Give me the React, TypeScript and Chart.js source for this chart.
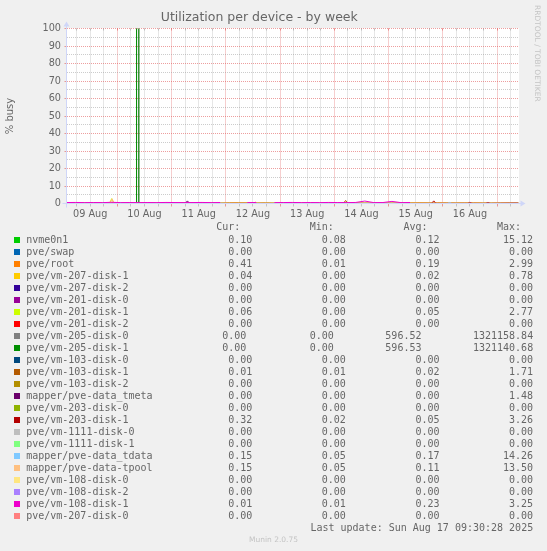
import { useEffect, useRef } from "react";
import { Chart, registerables } from "chart.js";

Chart.register(...registerables);

// series, in munin's draw order (last one ends up on top)
const seriesNames = [
  "nvme0n1",
  "pve/swap",
  "pve/root",
  "pve/vm-207-disk-1",
  "pve/vm-207-disk-2",
  "pve/vm-201-disk-0",
  "pve/vm-201-disk-1",
  "pve/vm-201-disk-2",
  "pve/vm-205-disk-0",
  "pve/vm-205-disk-1",
  "pve/vm-103-disk-0",
  "pve/vm-103-disk-1",
  "pve/vm-103-disk-2",
  "mapper/pve-data_tmeta",
  "pve/vm-203-disk-0",
  "pve/vm-203-disk-1",
  "pve/vm-1111-disk-0",
  "pve/vm-1111-disk-1",
  "mapper/pve-data_tdata",
  "mapper/pve-data-tpool",
  "pve/vm-108-disk-0",
  "pve/vm-108-disk-2",
  "pve/vm-108-disk-1",
  "pve/vm-207-disk-0",
];

const seriesColors = [
  "#00CC00", "#0066B3", "#FF8000", "#FFCC00", "#330099", "#990099",
  "#CCFF00", "#FF0000", "#808080", "#008F00", "#00487D", "#B35A00",
  "#B38F00", "#6B006B", "#8FB300", "#B30000", "#BEBEBE", "#80FF80",
  "#80C9FF", "#FFC080", "#FFE680", "#AA80FF", "#EE00CC", "#FF8080",
];

// legend statistics
const curValues = [0.10, 0.00, 0.41, 0.04, 0.00, 0.00, 0.06, 0.00, 0.00, 0.00, 0.00, 0.01, 0.00, 0.00, 0.00, 0.32, 0.00, 0.00, 0.15, 0.15, 0.00, 0.00, 0.01, 0.00];
const minValues = [0.08, 0.00, 0.01, 0.00, 0.00, 0.00, 0.00, 0.00, 0.00, 0.00, 0.00, 0.01, 0.00, 0.00, 0.00, 0.02, 0.00, 0.00, 0.05, 0.05, 0.00, 0.00, 0.01, 0.00];
const avgValues = [0.12, 0.00, 0.19, 0.02, 0.00, 0.00, 0.05, 0.00, 596.52, 596.53, 0.00, 0.02, 0.00, 0.00, 0.00, 0.05, 0.00, 0.00, 0.17, 0.11, 0.00, 0.00, 0.23, 0.00];
const maxValues = [15.12, 0.00, 2.99, 0.78, 0.00, 0.00, 2.77, 0.00, 1321158.84, 1321140.68, 0.00, 1.71, 0.00, 1.48, 0.00, 3.26, 0.00, 0.00, 14.26, 13.50, 0.00, 0.00, 3.25, 0.00];

// x values are hours relative to 10 Aug 00:00
const dayLabels = ["09 Aug", "10 Aug", "11 Aug", "12 Aug", "13 Aug", "14 Aug", "15 Aug", "16 Aug"];

const hoursGrid = [
  -22.5, -18.5, -14.5, -10.5, -6.5, -2.5, 1.5, 5.5, 9.5, 13.5,
  17.5, 21.5, 25.5, 29.5, 33.5, 37.5, 41.5, 45.5, 49.5, 53.5,
  57.5, 61.5, 65.5, 69.5, 73.5, 77.5, 81.5, 85.5, 89.5, 93.5,
  97.5, 101.5, 105.5, 109.5, 113.5, 117.5, 121.5, 125.5, 129.5, 133.5,
  137.5, 141.5, 145.5, 149.5, 153.5, 157.5, 161.5, 165.5, 169.5, 173.5,
  177.5,
];

const nvmeValues = [
  0.12, 0.1, 0.15, 0.1, 0.12, 0.2, 0.1, 0.12, 0.1, 0.14,
  0.1, 0.12, 0.1, 0.15, 0.1, 0.12, 0.1, 0.11, 0.12, 0.1,
  0.14, 0.1, 0.12, 0.1, 0.13, 0.1, 0.12, 0.11, 0.1, 0.12,
  0.1, 0.14, 0.1, 0.12, 0.1, 0.13, 0.1, 0.12, 0.1, 0.11,
  0.12, 0.1, 0.13, 0.1, 0.12, 0.1, 0.11, 0.12, 0.1, 0.12,
  0.1,
];

const rootValues = [
  0.3, 0.35, 0.3, 0.3, 0.35, 0.4, 0.3, 0.3, 0.35, 0.3,
  0.3, 0.35, 0.3, 0.4, 0.3, 0.35, 0.3, 0.3, 0.5, 0.55,
  0.5, 0.35, 0.5, 0.3, 0.35, 0.3, 0.3, 0.35, 0.3, 0.3,
  0.35, 0.3, 0.35, 0.3, 0.3, 0.35, 0.3, 0.4, 0.5, 0.55,
  0.5, 0.55, 0.5, 0.45, 0.5, 0.55, 0.5, 0.45, 0.5, 0.55,
  0.41,
];

const vm108d1Values = [
  0.55, 0.6, 0.5, 0.55, 0.5, 0.7, 0.5, 0.55, 0.5, 0.55,
  0.5, 0.6, 0.55, 0.5, 0.55, 0.6, 0.5, 0.55, null, null,
  0.5, 0.55, null, 0.5, 0.55, 0.6, 0.5, 0.55, 0.5, 0.6,
  0.55, 0.5, 0.6, 1.4, 0.5, 0.55, 1.2, 0.5, 0.55, null,
  0.01, 0.01, 0.01, 0.01, 0.01, 0.01, 0.01, 0.01, 0.01, 0.01,
  0.01,
];

const flatHours = [-22.5, 177.5];
const flatValues = [0, 0];

const spikeHours = [-22.5, 8.5, 9, 9.5, 177.5];
const vm205d0Values = [0, 0, 1321158.84, 0, 0];
const vm205d1Values = [0, 0, 1321140.68, 0, 0];

const vm207d1Hours = [-22.5, 60, 61, 62, 177.5];
const vm207d1Values = [0.02, 0.02, 0.78, 0.02, 0.04];

const vm201d1Hours = [-22.5, -3.5, -2.5, -1.5, 75, 76, 77, 177.5];
const vm201d1Values = [0.05, 0.05, 2.77, 0.05, 0.05, 0.6, 0.05, 0.06];

const vm103d1Hours = [-22.5, 100, 101, 102, 177.5];
const vm103d1Values = [0.02, 0.02, 1.71, 0.02, 0.01];

const tmetaHours = [-22.5, 30, 31, 32, 177.5];
const tmetaValues = [0, 0, 1.48, 0, 0];

const vm203d1Hours = [-22.5, 130, 139, 140, 141, 155, 156, 157, 163, 164, 165, 177.5];
const vm203d1Values = [0.02, 0.03, 0.05, 1.5, 0.05, 0.05, 0.7, 0.05, 0.05, 0.7, 0.05, 0.32];

const tdataHours = [-22.5, -7, -6, -5, 0.5, 1.5, 2.5, 146, 147, 148, 177.5];
const tdataValues = [0.1, 0.1, 0.6, 0.1, 0.1, 0.6, 0.1, 0.1, 0.6, 0.1, 0.15];

const tpoolHours = [-22.5, -3.2, -2.3, -1.4, 177.5];
const tpoolValues = [0.05, 0.05, 2.7, 0.05, 0.15];

const seriesHours = [
  hoursGrid, flatHours, hoursGrid, vm207d1Hours, flatHours, flatHours,
  vm201d1Hours, flatHours, spikeHours, spikeHours, flatHours, vm103d1Hours,
  flatHours, tmetaHours, flatHours, vm203d1Hours, flatHours, flatHours,
  tdataHours, tpoolHours, flatHours, flatHours, hoursGrid, flatHours,
];

const seriesValues = [
  nvmeValues, flatValues, rootValues, vm207d1Values, flatValues, flatValues,
  vm201d1Values, flatValues, vm205d0Values, vm205d1Values, flatValues, vm103d1Values,
  flatValues, tmetaValues, flatValues, vm203d1Values, flatValues, flatValues,
  tdataValues, tpoolValues, flatValues, flatValues, vm108d1Values, flatValues,
];

const MAJOR = "rgba(222,79,79,0.55)";
const MINOR = "rgba(143,143,143,0.45)";
const AXIS = "#CFD6F8";
const FONT = "#666666";

const LEGEND_TOP = 233.7;
const ROW_H = 12;

const fmt = (v: number) => v.toFixed(2).padStart(6, " ");
const mod = (a: number, b: number) => ((a % b) + b) % b;

const rrdPlugin = {
  id: "rrd",
  beforeDraw(chart: any) {
    const {ctx, chartArea: a} = chart;
    ctx.save();
    ctx.fillStyle = "#FFFFFF";
    ctx.fillRect(Math.floor(a.left), Math.floor(a.top), Math.ceil(a.width) + 1, Math.ceil(a.height) + 1);
    ctx.restore();
  },
  beforeDatasetsDraw(chart: any) {
    // rrdtool puts a short solid stub at the top of each vertical grid line
    const {ctx, chartArea: a, scales} = chart;
    ctx.save();
    ctx.lineWidth = 1;
    for (const t of scales.x.ticks) {
      const px = Math.round(scales.x.getPixelForValue(t.value) - 0.5) + 0.5;
      ctx.strokeStyle = mod(t.value, 24) === 0 ? MAJOR : MINOR;
      ctx.beginPath();
      ctx.moveTo(px, a.top);
      ctx.lineTo(px, a.top + 2);
      ctx.stroke();
    }
    ctx.restore();
  },
  afterDatasetsDraw(chart: any) {
    const {ctx, chartArea: a} = chart;
    ctx.save();
    ctx.strokeStyle = AXIS;
    ctx.fillStyle = AXIS;
    ctx.lineWidth = 1;
    ctx.beginPath();
    ctx.moveTo(a.left - 4, a.bottom);
    ctx.lineTo(a.right + 4, a.bottom);
    ctx.moveTo(a.left, a.bottom + 4);
    ctx.lineTo(a.left, a.top - 4);
    ctx.stroke();
    ctx.beginPath();
    ctx.moveTo(a.right + 2, a.bottom - 3);
    ctx.lineTo(a.right + 2, a.bottom + 3);
    ctx.lineTo(a.right + 7, a.bottom);
    ctx.closePath();
    ctx.fill();
    ctx.beginPath();
    ctx.moveTo(a.left - 3, a.top - 2);
    ctx.lineTo(a.left + 3, a.top - 2);
    ctx.lineTo(a.left, a.top - 7);
    ctx.closePath();
    ctx.fill();
    ctx.restore();
  },
};

export default function App() {
  const canvasRef = useRef<HTMLCanvasElement | null>(null);

  useEffect(() => {
    document.body.style.margin = "0";
    const canvas = canvasRef.current;
    if (!canvas) return;

    const chart = new Chart(canvas, {
      type: "line",
      data: {
        datasets: seriesNames.map((name, i) => ({
          label: name,
          data: seriesHours[i].map((h, j) => ({x: h, y: seriesValues[i][j]})),
          borderColor: seriesColors[i],
          backgroundColor: seriesColors[i],
          borderWidth: 1,
          pointRadius: 0,
          tension: 0,
          fill: false,
          spanGaps: false,
          order: seriesNames.length - i,
        })),
      },
      options: {
        responsive: false,
        animation: false,
        events: [],
        layout: {padding: {left: 0, right: 28.5, top: 0, bottom: 0}},
        plugins: {
          legend: {display: false},
          tooltip: {enabled: false},
          title: {
            display: true,
            text: "Utilization per device - by week",
            color: FONT,
            font: {family: "DejaVu Sans", size: 12.5, weight: "normal"},
            padding: {top: 10.5, bottom: 3},
          },
        },
        scales: {
          x: {
            type: "linear",
            min: -22.5,
            max: 177.5,
            afterBuildTicks: (scale: any) => {
              const ticks = [];
              for (let h = -18; h <= 174; h += 6) ticks.push({value: h});
              scale.ticks = ticks;
            },
            afterFit: (scale: any) => {
              scale.height = 26.5;
            },
            grid: {
              color: (ctx: any) => (mod(ctx.tick.value, 24) === 0 ? MAJOR : MINOR),
              tickColor: (ctx: any) => (mod(ctx.tick.value, 24) === 0 ? MAJOR : MINOR),
              tickLength: 3,
              lineWidth: 1,
            },
            border: {display: false, dash: [1, 1]},
            ticks: {
              autoSkip: false,
              maxRotation: 0,
              minRotation: 0,
              padding: 2,
              color: FONT,
              font: {family: "DejaVu Sans", size: 9.7},
              callback: (value: any) =>
                mod(value, 24) === 12 ? dayLabels[(value + 12) / 24] : "",
            },
          },
          y: {
            type: "linear",
            min: 0,
            max: 100,
            afterBuildTicks: (scale: any) => {
              const ticks = [];
              for (let v = 0; v <= 100; v += 5) ticks.push({value: v});
              scale.ticks = ticks;
            },
            afterFit: (scale: any) => {
              scale.width = 66.5;
            },
            grid: {
              color: (ctx: any) => (ctx.tick.value % 10 === 0 ? MAJOR : MINOR),
              tickColor: (ctx: any) => (ctx.tick.value % 10 === 0 ? MAJOR : "rgba(0,0,0,0)"),
              tickLength: 2,
              lineWidth: 1,
            },
            border: {display: false, dash: [1, 1]},
            title: {
              display: true,
              text: "% busy",
              color: FONT,
              font: {family: "DejaVu Sans", size: 10},
              padding: {top: 4, bottom: 0},
            },
            ticks: {
              autoSkip: false,
              padding: 3.5,
              color: FONT,
              font: {family: "DejaVu Sans", size: 9.7},
              callback: (value: any) => (value % 10 === 0 ? String(value) : ""),
            },
          },
        },
      },
      plugins: [rrdPlugin],
    });

    return () => chart.destroy();
  }, []);

  const mono: React.CSSProperties = {
    position: "absolute",
    left: 26.2,
    width: 507,
    height: ROW_H,
    lineHeight: ROW_H + "px",
    display: "flex",
    justifyContent: "space-between",
    whiteSpace: "pre",
    fontFamily: '"DejaVu Sans Mono"',
    fontSize: 10,
    color: FONT,
  };

  return (
    <div style={{position: "relative", width: 547, height: 551, background: "#F0F0F0", overflow: "hidden"}}>
      <canvas ref={canvasRef} width={547} height={230} style={{position: "absolute", left: 0, top: 0}} />
      <div
        style={{
          position: "absolute",
          left: 532.5,
          top: 5,
          writingMode: "vertical-rl",
          fontFamily: '"DejaVu Sans"',
          fontSize: 7.5,
          lineHeight: "9px",
          color: "#C4C4C4",
          whiteSpace: "nowrap",
        }}
      >
        RRDTOOL / TOBI OETIKER
      </div>

      <div style={{...mono, top: LEGEND_TOP - 12.5}}>
        <span>{"".padEnd(22)}</span>
        <span>{"Cur:  "}</span>
        <span>{"Min:  "}</span>
        <span>{"Avg:  "}</span>
        <span>{"Max:  "}</span>
      </div>

      {seriesNames.map((name, i) => {
        const top = LEGEND_TOP + i * ROW_H;
        return (
          <div key={name}>
            <div
              style={{
                position: "absolute",
                left: 14,
                top: top + 3.5,
                width: 6,
                height: 6,
                background: seriesColors[i],
              }}
            />
            <div style={{...mono, top}}>
              <span>{name.padEnd(22)}</span>
              <span>{fmt(curValues[i])}</span>
              <span>{fmt(minValues[i])}</span>
              <span>{fmt(avgValues[i])}</span>
              <span>{fmt(maxValues[i])}</span>
            </div>
          </div>
        );
      })}

      <div
        style={{
          ...mono,
          top: LEGEND_TOP + seriesNames.length * ROW_H,
          justifyContent: "flex-end",
        }}
      >
        <span>Last update: Sun Aug 17 09:30:28 2025</span>
      </div>

      <div
        style={{
          position: "absolute",
          left: 0,
          width: 547,
          top: 535,
          textAlign: "center",
          fontFamily: '"DejaVu Sans"',
          fontSize: 7.5,
          lineHeight: "10px",
          color: "#C4C4C4",
        }}
      >
        Munin 2.0.75
      </div>
    </div>
  );
}
